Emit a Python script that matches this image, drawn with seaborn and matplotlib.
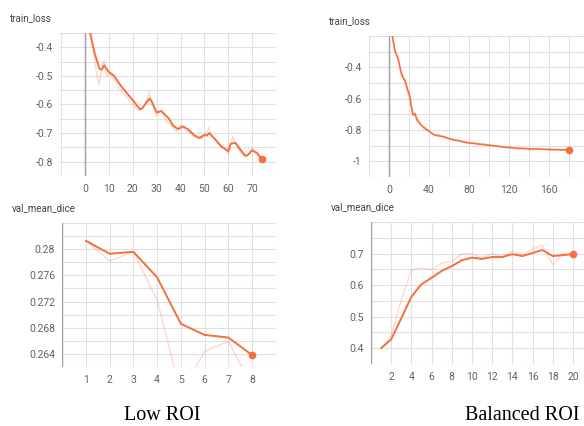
import matplotlib.pyplot as plt
import seaborn as sns

# ── data ─────────────────────────────────────────────────────────────────────
low_loss_x = [0, 2, 4, 6, 7, 8, 10, 12, 15, 18, 20, 23, 24, 26, 27, 28, 30, 31, 32, 35,
              37, 39, 41, 43, 46, 48, 50, 51, 52, 54, 57, 58, 60, 61, 63, 65, 67, 68,
              70, 72, 74]
low_loss_smooth = [-0.22, -0.345, -0.42, -0.475, -0.478, -0.463, -0.487, -0.498, -0.535,
                   -0.565, -0.585, -0.617, -0.613, -0.59, -0.579, -0.59, -0.628, -0.625,
                   -0.623, -0.648, -0.675, -0.686, -0.677, -0.686, -0.709, -0.717, -0.706,
                   -0.709, -0.70, -0.717, -0.746, -0.752, -0.763, -0.737, -0.734, -0.757,
                   -0.778, -0.778, -0.76, -0.769, -0.789]
low_loss_raw_x = [0, 2, 4, 5, 6, 7, 8, 9, 10, 12, 14, 16, 18, 20, 22, 24, 26, 27, 28, 30,
                  32, 34, 36, 38, 40, 42, 44, 46, 48, 50, 52, 53, 55, 57, 59, 60, 62, 63,
                  65, 67, 69, 70, 72, 74]
low_loss_raw = [-0.2, -0.34, -0.44, -0.5, -0.53, -0.47, -0.445, -0.5, -0.49, -0.51, -0.54,
                -0.56, -0.58, -0.6, -0.62, -0.615, -0.58, -0.555, -0.6, -0.64, -0.62, -0.66,
                -0.67, -0.695, -0.67, -0.69, -0.7, -0.715, -0.72, -0.71, -0.68, -0.71,
                -0.725, -0.75, -0.755, -0.775, -0.71, -0.74, -0.765, -0.785, -0.77, -0.75,
                -0.78, -0.795]

bal_loss_x = [0, 3, 6, 9, 12, 14, 16, 18, 21, 22, 24, 26, 28, 32, 36, 40, 45, 50, 55, 60,
              65, 70, 75, 80, 90, 100, 110, 120, 130, 140, 150, 160, 170, 180]
bal_loss_smooth = [-0.05, -0.19, -0.295, -0.345, -0.43, -0.465, -0.485, -0.53, -0.59,
                   -0.64, -0.705, -0.695, -0.737, -0.768, -0.789, -0.81, -0.83, -0.838,
                   -0.843, -0.855, -0.865, -0.868, -0.878, -0.882, -0.89, -0.897, -0.905,
                   -0.912, -0.917, -0.92, -0.922, -0.924, -0.926, -0.927]
bal_loss_raw_x = [0, 3, 6, 9, 12, 15, 18, 21, 24, 27, 30, 35, 40, 45, 50, 55, 60, 65, 70,
                  75, 80, 85, 90, 95, 100, 110, 115, 120, 130, 135, 140, 150, 160, 170, 180]
bal_loss_raw = [-0.04, -0.18, -0.31, -0.33, -0.45, -0.47, -0.55, -0.62, -0.68, -0.72,
                -0.74, -0.8, -0.8, -0.84, -0.83, -0.85, -0.86, -0.855, -0.875, -0.87,
                -0.89, -0.88, -0.895, -0.885, -0.9, -0.9, -0.915, -0.91, -0.925, -0.915,
                -0.93, -0.92, -0.93, -0.925, -0.93]

low_dice_x = [1, 2, 3, 4, 5, 6, 7, 8]
low_dice_smooth = [0.2813, 0.2793, 0.2796, 0.2757, 0.2686, 0.2669, 0.2665, 0.2638]
low_dice_raw = [0.2813, 0.2782, 0.2796, 0.2723, 0.2580, 0.2644, 0.2659, 0.2590]

bal_dice_x = list(range(1, 21))
bal_dice_smooth = [0.40, 0.428, 0.495, 0.563, 0.603, 0.623, 0.645, 0.66, 0.679, 0.687,
                   0.683, 0.689, 0.689, 0.698, 0.692, 0.702, 0.711, 0.692, 0.695, 0.698]
bal_dice_raw = [0.40, 0.44, 0.553, 0.647, 0.655, 0.648, 0.67, 0.675, 0.698, 0.70,
                0.685, 0.70, 0.69, 0.708, 0.695, 0.715, 0.727, 0.665, 0.70, 0.70]

low_loss_yticks = [-0.4, -0.5, -0.6, -0.7, -0.8]
low_loss_xticks = [0, 10, 20, 30, 40, 50, 60, 70]
bal_loss_yticks = [-0.4, -0.6, -0.8, -1.0]
bal_loss_xticks = [0, 40, 80, 120, 160]
low_dice_yticks = [0.264, 0.268, 0.272, 0.276, 0.28]
low_dice_xticks = [1, 2, 3, 4, 5, 6, 7, 8]
bal_dice_yticks = [0.4, 0.5, 0.6, 0.7]
bal_dice_xticks = [2, 4, 6, 8, 10, 12, 14, 16, 18, 20]

titles = ['train_loss', 'train_loss', 'val_mean_dice', 'val_mean_dice']
captions = ['Low ROI', 'Balanced ROI']

# ── style ────────────────────────────────────────────────────────────────────
sns.set_style('white')
plt.rcParams['font.family'] = ['Roboto', 'DejaVu Sans']
plt.rcParams['axes.unicode_minus'] = False

ORANGE = '#f4703f'
W, H = 584, 426
fig = plt.figure(figsize=(W / 100, H / 100), dpi=100)


def panel(box, xlim, ylim, xticks, xgrid, yticks, ygrid):
    l, r, t, b = box
    ax = fig.add_axes([l / W, 1 - b / H, (r - l) / W, (b - t) / H])
    ax.set_xlim(*xlim)
    ax.set_ylim(*ylim)
    ax.set_xticks(xticks)
    ax.set_xticklabels([f'{v:g}' for v in xticks])
    ax.set_xticks(xgrid, minor=True)
    ax.set_yticks(yticks)
    ax.set_yticklabels([f'{v:g}' for v in yticks])
    ax.set_yticks(ygrid, minor=True)
    ax.grid(which='both', color='#e0e0e0', lw=0.8)
    ax.tick_params(which='both', length=0, labelsize=7.5, labelcolor='#616161')
    ax.tick_params(axis='x', pad=6)
    ax.tick_params(axis='y', pad=5)
    for s in ax.spines.values():
        s.set_visible(False)
    ax.axvline(0, color='#a0a0a0', lw=1, zorder=1)
    return ax


def draw(ax, rx, ry, sx, sy, lw=1.4):
    sns.lineplot(x=rx, y=ry, ax=ax, color=ORANGE, alpha=0.25, lw=1, zorder=2)
    sns.lineplot(x=sx, y=sy, ax=ax, color=ORANGE, lw=lw, zorder=3)
    ax.plot(sx[-1], sy[-1], 'o', color=ORANGE, ms=4.5, zorder=4, clip_on=False)
    ax.set_xlabel('')
    ax.set_ylabel('')


def frange(a, step, n):
    return [round(a + i * step, 4) for i in range(n)]


# top-left: Low ROI train_loss
ax1 = panel((60, 276, 33, 176), (-10.5, 80), (-0.847, -0.353),
            low_loss_xticks, [-10, 80], low_loss_yticks, frange(-0.85, 0.05, 11))
draw(ax1, low_loss_raw_x, low_loss_raw, low_loss_x, low_loss_smooth)

# top-right: Balanced ROI train_loss
ax2 = panel((369, 584, 36, 177), (-20, 194.7), (-1.097, -0.206),
            bal_loss_xticks, frange(-20, 40, 6), bal_loss_yticks, frange(-1.1, 0.1, 10))
draw(ax2, bal_loss_raw_x, bal_loss_raw, bal_loss_x, bal_loss_smooth, lw=1.2)

# bottom-left: Low ROI val_mean_dice
ax3 = panel((62, 276, 223, 367), (0, 9), (0.262, 0.284),
            low_dice_xticks, [0, 9], low_dice_yticks, frange(0.262, 0.002, 12))
draw(ax3, low_dice_x, low_dice_raw, low_dice_x, low_dice_smooth)

# bottom-right: Balanced ROI val_mean_dice
ax4 = panel((371, 584, 222, 364), (0, 21.1), (0.35, 0.8),
            bal_dice_xticks, [0], bal_dice_yticks, frange(0.35, 0.05, 10))
draw(ax4, bal_dice_x, bal_dice_raw, bal_dice_x, bal_dice_smooth)

# panel titles
for (x, y), t in zip([(10, 18), (329, 21), (12, 208), (331, 207)], titles):
    fig.text(x / W, 1 - y / H, t, fontsize=7, color='#424242', va='center', ha='left')

# captions under each column
for (x, y), c in zip([(162, 415), (522, 415)], captions):
    fig.text(x / W, 1 - y / H, c, fontsize=14.5, family='Liberation Serif',
             color='black', va='center', ha='center')

fig.savefig('out.png', dpi=100)
